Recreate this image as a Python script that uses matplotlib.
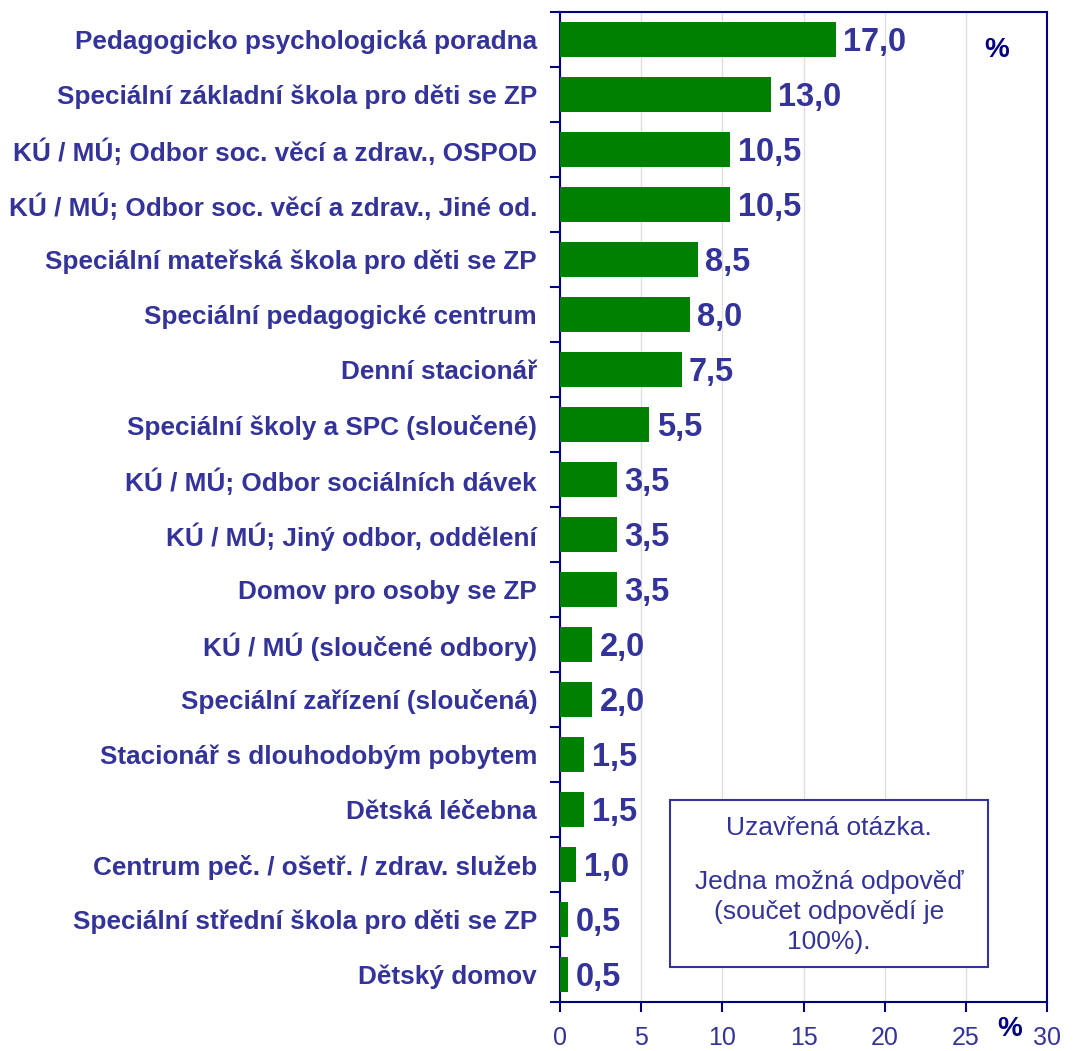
import matplotlib.pyplot as plt
import numpy as np
from matplotlib.patches import Rectangle

# Data (shares in %)
categories = [
    "Pedagogicko psychologická poradna",
    "Speciální základní škola pro děti se ZP",
    "KÚ / MÚ; Odbor soc. věcí a zdrav., OSPOD",
    "KÚ / MÚ; Odbor soc. věcí a zdrav., Jiné od.",
    "Speciální mateřská škola pro děti se ZP",
    "Speciální pedagogické centrum",
    "Denní stacionář",
    "Speciální školy a SPC (sloučené)",
    "KÚ / MÚ; Odbor sociálních dávek",
    "KÚ / MÚ; Jiný odbor, oddělení",
    "Domov pro osoby se ZP",
    "KÚ / MÚ (sloučené odbory)",
    "Speciální zařízení (sloučená)",
    "Stacionář s dlouhodobým pobytem",
    "Dětská léčebna",
    "Centrum peč. / ošetř. / zdrav. služeb",
    "Speciální střední škola pro děti se ZP",
    "Dětský domov",
]
values = [17.0, 13.0, 10.5, 10.5, 8.5, 8.0, 7.5, 5.5, 3.5, 3.5, 3.5,
          2.0, 2.0, 1.5, 1.5, 1.0, 0.5, 0.5]
x_ticks = [0, 5, 10, 15, 20, 25, 30]

txt_col = "#333399"
navy = "#000080"
bar_col = "#008000"

plt.rcParams['font.family'] = ['Liberation Sans', 'DejaVu Sans']

fig = plt.figure(figsize=(10.81, 10.51), dpi=100)
ax = fig.add_axes([560 / 1081, 1 - 1002 / 1051, 487 / 1081, 990 / 1051])

y = np.arange(len(categories))
ax.barh(y, values, height=0.64, color=bar_col, zorder=3)

for yi, v in zip(y, values):
    ax.text(v + 0.45, yi + 0.06, f"{v:.1f}".replace(".", ","), va="center", ha="left",
            fontsize=23.5, fontweight="bold", color=txt_col, zorder=4)

ax.set_xlim(0, 30)
ax.set_ylim(len(categories) - 0.5, -0.5)
ax.set_xticks(x_ticks)
ax.set_xticklabels([str(t) for t in x_ticks], fontsize=18, color=txt_col)
ax.set_yticks(y)
ax.set_yticklabels(categories, fontsize=18.8, fontweight="bold", color=txt_col)
ax.tick_params(axis="y", which="major", length=0, pad=16.5)
ax.set_yticks(np.arange(len(categories) + 1) - 0.5, minor=True)
ax.tick_params(axis="y", which="minor", length=7, width=1.5, color=navy, direction="out")
ax.tick_params(axis="x", length=7, width=1.5, color=navy, pad=10)

ax.grid(axis="x", color="#dddddd", linewidth=1, zorder=0)
for s in ax.spines.values():
    s.set_color(navy)
    s.set_linewidth(1.5)

ax.text(0.897, 0.962, "%", transform=ax.transAxes, fontsize=20, fontweight="bold",
        color=navy, ha="center", va="center")
fig.text(1010 / 1081, 1 - 1029 / 1051, "%", fontsize=20, fontweight="bold",
         color=navy, ha="center", va="center")

# Note box
ax.add_patch(Rectangle((0.226, 0.035), 0.653, 0.169, transform=ax.transAxes,
                       fill=True, facecolor="white", edgecolor=txt_col,
                       linewidth=1.5, zorder=5))
cx = 0.5525
ax.text(cx, 0.1758, "Uzavřená otázka.", transform=ax.transAxes, ha="center",
        va="center", fontsize=19, color=txt_col, zorder=6)
ax.text(cx, 0.0909, "Jedna možná odpověď\n(součet odpovědí je\n100%).",
        transform=ax.transAxes, ha="center", va="center", fontsize=19,
        color=txt_col, linespacing=1.33, zorder=6)

fig.savefig("out.png", dpi=100)
